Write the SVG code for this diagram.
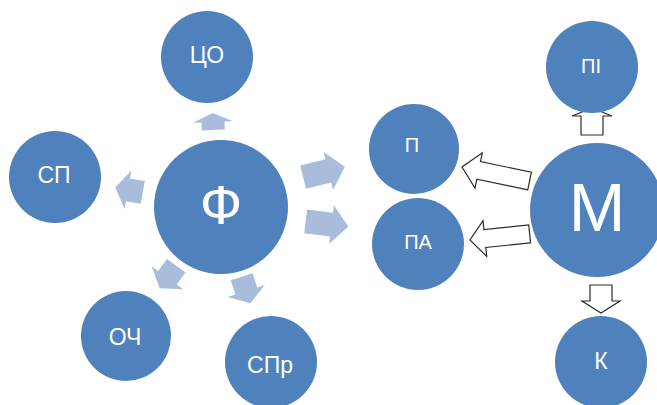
<svg xmlns="http://www.w3.org/2000/svg" xmlns:xlink="http://www.w3.org/1999/xlink" width="657" height="405" viewBox="0 0 657 405">
  <style>
    .node { fill: #4F81BD; }
    .lbl { fill: #FFFFFF; font-family: "Liberation Sans", Arial, sans-serif; text-anchor: middle; }
    .s { font-size: 23px; }
    .m { font-size: 20px; }
    .big { font-size: 68px; }
    .soft { fill: #A9BCDB; }
    .outline { fill: #FFFFFF; stroke: #2B2B2B; stroke-width: 1.2; stroke-linejoin: miter; }
  </style>
  <defs>
    <!-- block arrows pointing along +x, centred on the origin -->
    <path id="arrowShort" d="M-14,-11.5 L1,-11.5 L1,-19.5 L14,0 L1,19.5 L1,11.5 L-14,11.5 Z"/>
    <path id="arrowStub" d="M-8.5,-11.5 L-0.5,-11.5 L-0.5,-20 L8.5,0 L-0.5,20 L-0.5,11.5 L-8.5,11.5 Z"/>
    <path id="arrowLong" d="M-21.5,-12 L4.5,-12 L4.5,-19.5 L21.5,0 L4.5,19.5 L4.5,12 L-21.5,12 Z"/>
  </defs>
  <rect width="657" height="405" fill="#FFFFFF"/>

  <g id="connectors">
    <!-- radial arrows out of Ф -->
    <use xlink:href="#arrowStub" class="soft" transform="translate(213,121.5) rotate(-92)"/>
    <use xlink:href="#arrowShort" class="soft" transform="translate(129,190) rotate(190)"/>
    <use xlink:href="#arrowShort" class="soft" transform="translate(168,277) rotate(126)"/>
    <use xlink:href="#arrowShort" class="soft" transform="translate(246,290) rotate(72)"/>
    <use xlink:href="#arrowLong" class="soft" transform="translate(324,172) rotate(-14)"/>
    <use xlink:href="#arrowLong" class="soft" transform="translate(327,224) rotate(7)"/>
    <!-- outlined arrows out of М -->
    <path class="outline" transform="translate(495.8,174) rotate(191.7)" d="M-34.5,-9 L17.5,-9 L17.5,-18 L34.5,0 L17.5,18 L17.5,9 L-34.5,9 Z"/>
    <path class="outline" transform="translate(499.8,237) rotate(174.2)" d="M-30,-9 L15,-9 L15,-18 L30,0 L15,18 L15,9 L-30,9 Z"/>
    <path class="outline" d="M581,135 L581,116 L572,116 L592,108 L612,116 L603,116 L603,135 Z"/>
    <path class="outline" d="M590,285 L590,301 L582,301 L601,313 L620,301 L612,301 L612,285 Z"/>
  </g>

  <g id="node-F">
    <circle class="node" cx="221" cy="207" r="67"/>
    <text class="lbl" x="221" y="224" font-size="56">Ф</text>
  </g>
  <g id="node-CO">
    <circle class="node" cx="207" cy="57" r="46"/>
    <text class="lbl s" x="207" y="63">ЦО</text>
  </g>
  <g id="node-SP">
    <circle class="node" cx="55" cy="177" r="46"/>
    <text class="lbl s" x="54" y="183">СП</text>
  </g>
  <g id="node-OCh">
    <circle class="node" cx="126" cy="336" r="45"/>
    <text class="lbl s" x="125" y="345">ОЧ</text>
  </g>
  <g id="node-SPr">
    <circle class="node" cx="271" cy="362" r="46"/>
    <text class="lbl s" x="270" y="373">СПр</text>
  </g>
  <g id="node-P">
    <circle class="node" cx="414" cy="149" r="45"/>
    <text class="lbl m" x="412" y="152">П</text>
  </g>
  <g id="node-PA">
    <circle class="node" cx="418" cy="244" r="46"/>
    <text class="lbl m" x="418" y="249">ПА</text>
  </g>
  <g id="node-M">
    <circle class="node" cx="597" cy="210" r="67"/>
    <text class="lbl big" x="597" y="231">М</text>
  </g>
  <g id="node-PI">
    <circle class="node" cx="592" cy="67" r="46"/>
    <text class="lbl m" x="591" y="73">ПІ</text>
  </g>
  <g id="node-K">
    <circle class="node" cx="601" cy="362" r="46"/>
    <text class="lbl s" x="601" y="369">К</text>
  </g>
</svg>
